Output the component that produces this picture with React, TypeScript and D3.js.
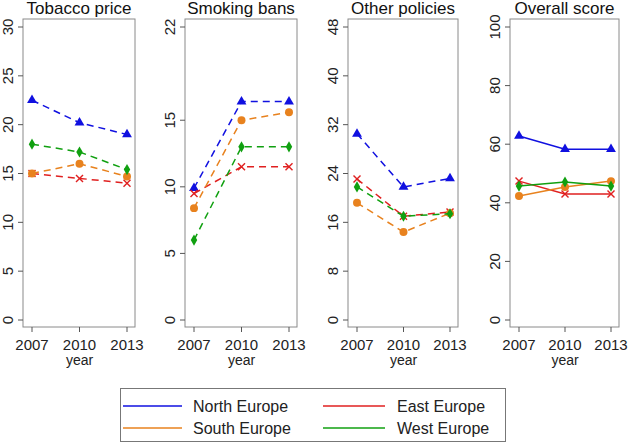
import React from "react";
import * as d3 from "d3";

const years = [2007, 2010, 2013];
const regions = ["North Europe", "East Europe", "South Europe", "West Europe"];
const regionColors = ["#1010e0", "#e02020", "#e8821e", "#10a010"];
const regionMarkers = ["triangle", "x", "circle", "diamond"];

const panelTitles = ["Tobacco price", "Smoking bans", "Other policies", "Overall score"];
const panelMax = [30, 22, 48, 100];
const panelTicks = [
  [0, 5, 10, 15, 20, 25, 30],
  [0, 5, 10, 15, 22],
  [0, 8, 16, 24, 32, 40, 48],
  [0, 20, 40, 60, 80, 100],
];
const panelDashed = [true, true, true, false];

// values[panel][region] = [2007, 2010, 2013]
const tobaccoPrice = [
  [22.5, 20.2, 19.0],
  [15.0, 14.5, 14.0],
  [15.0, 16.0, 14.7],
  [18.0, 17.2, 15.4],
];
const smokingBans = [
  [9.9, 16.4, 16.4],
  [9.5, 11.5, 11.5],
  [8.4, 15.0, 15.6],
  [6.0, 13.0, 13.0],
];
const otherPolicies = [
  [30.5, 21.8, 23.2],
  [23.1, 17.0, 17.7],
  [19.2, 14.4, 17.5],
  [21.8, 17.0, 17.4],
];
const overallScore = [
  [62.8, 58.3, 58.3],
  [47.4, 43.0, 43.0],
  [42.3, 45.4, 47.4],
  [45.7, 47.1, 45.7],
];
const panelValues = [tobaccoPrice, smokingBans, otherPolicies, overallScore];

const panelLeft = [23, 185, 348, 510];
const panelRight = [135, 297, 458, 619];
const boxTop = 19;
const boxBottom = 327;
const yZero = 320;
const yMaxPx = 27;
const font = "Liberation Sans, Arial, sans-serif";

function Marker({ type, x, y, color }: { type: string; x: number; y: number; color: string }) {
  if (type === "x") {
    const s = 3.5;
    return (
      <g stroke={color} strokeWidth={1.4}>
        <line x1={x - s} y1={y - s} x2={x + s} y2={y + s} />
        <line x1={x - s} y1={y + s} x2={x + s} y2={y - s} />
      </g>
    );
  }
  const sym =
    type === "triangle" ? d3.symbolTriangle : type === "circle" ? d3.symbolCircle : d3.symbolDiamond;
  const size = type === "triangle" ? 42 : type === "circle" ? 50 : 36;
  const path = d3.symbol().type(sym).size(size)() as string;
  return <path d={path} transform={`translate(${x},${y})`} fill={color} />;
}

function Panel({ i }: { i: number }) {
  const left = panelLeft[i];
  const right = panelRight[i];
  const x = d3.scaleLinear().domain([2007, 2013]).range([left + 9, right - 8]);
  const y = d3.scaleLinear().domain([0, panelMax[i]]).range([yZero, yMaxPx]);
  const line = d3
    .line<number>()
    .x((_, k) => x(years[k]))
    .y((v) => y(v));
  return (
    <g>
      <text
        x={(left + right) / 2}
        y={14}
        textAnchor="middle"
        fontSize={17}
        fontFamily={font}
        fill="#111"
      >
        {panelTitles[i]}
      </text>
      <rect
        x={left}
        y={boxTop}
        width={right - left}
        height={boxBottom - boxTop}
        fill="none"
        stroke="#8a8a8a"
        strokeWidth={1}
      />
      {panelTicks[i].map((t) => (
        <g key={t}>
          <line x1={left - 5} x2={left} y1={y(t)} y2={y(t)} stroke="#555" strokeWidth={1} />
          <text
            transform={`translate(${left - 10},${y(t)}) rotate(-90)`}
            textAnchor="middle"
            fontSize={15}
            fontFamily={font}
            fill="#222"
          >
            {t}
          </text>
        </g>
      ))}
      {years.map((yr) => (
        <g key={yr}>
          <line x1={x(yr)} x2={x(yr)} y1={boxBottom} y2={boxBottom + 5} stroke="#555" strokeWidth={1} />
          <text x={x(yr)} y={350} textAnchor="middle" fontSize={15} fontFamily={font} fill="#222">
            {yr}
          </text>
        </g>
      ))}
      <text x={x(2010)} y={365} textAnchor="middle" fontSize={14} fontFamily={font} fill="#222">
        year
      </text>
      {panelValues[i].map((vals, r) => (
        <g key={r}>
          <path
            d={line(vals) as string}
            fill="none"
            stroke={regionColors[r]}
            strokeWidth={1.5}
            strokeDasharray={panelDashed[i] ? "7,5" : undefined}
          />
          {vals.map((v, k) => (
            <Marker key={k} type={regionMarkers[r]} x={x(years[k])} y={y(v)} color={regionColors[r]} />
          ))}
        </g>
      ))}
    </g>
  );
}

export default function App() {
  const legendCols = [
    { lineX1: 123, lineX2: 182, textX: 193 },
    { lineX1: 323, lineX2: 385, textX: 397 },
  ];
  const legendRows = [406, 428];
  // legend order: North, East (row 1); South, West (row 2)
  return (
    <svg
      width={629}
      height={443}
      style={{ position: "absolute", left: 0, top: 0, background: "#fff" }}
    >
      <rect x={0} y={0} width={629} height={443} fill="#fff" />
      {[0, 1, 2, 3].map((i) => (
        <Panel key={i} i={i} />
      ))}
      <rect x={120.5} y={388.5} width={385} height={53} fill="none" stroke="#777" strokeWidth={1} />
      {regions.map((name, r) => {
        const col = legendCols[r % 2];
        const yy = legendRows[Math.floor(r / 2)];
        return (
          <g key={name}>
            <line
              x1={col.lineX1}
              x2={col.lineX2}
              y1={yy}
              y2={yy}
              stroke={regionColors[r]}
              strokeWidth={1.5}
            />
            <text
              x={col.textX}
              y={yy + 6}
              fontSize={16}
              fontFamily={font}
              fill="#222"
            >
              {name}
            </text>
          </g>
        );
      })}
    </svg>
  );
}
